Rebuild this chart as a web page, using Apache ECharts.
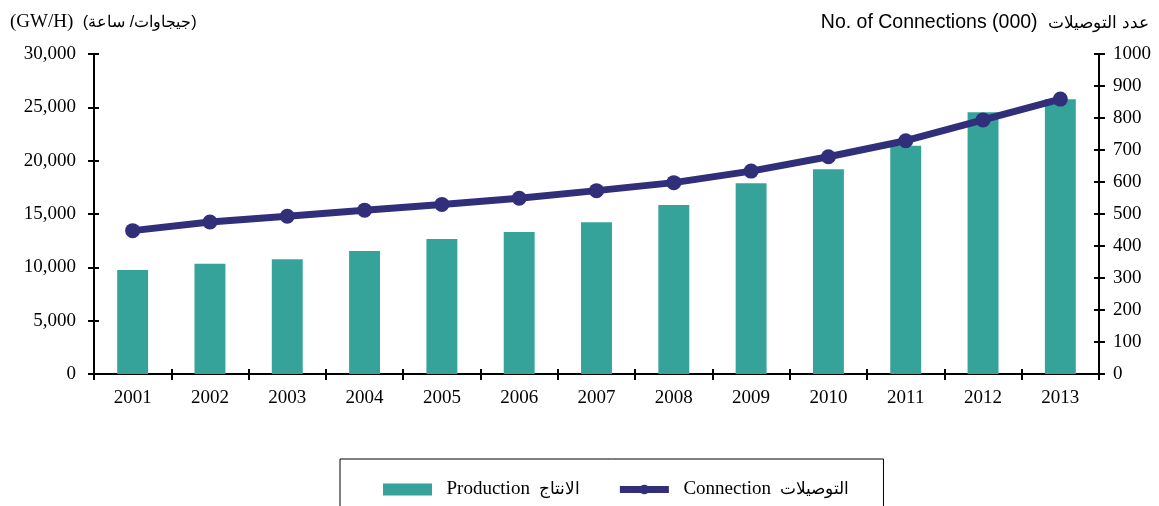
<!DOCTYPE html>
<html><head><meta charset="utf-8">
<script src="https://cdn.jsdelivr.net/npm/echarts@6/dist/echarts.min.js"></script>
<style>html,body{margin:0;padding:0;background:#fff}#c{width:1159px;height:506px}</style>
</head><body><div id="c"></div>
<script>
const years = ['2001','2002','2003','2004','2005','2006','2007','2008','2009','2010','2011','2012','2013'];
const production = [9750,10340,10750,11530,12660,13310,14220,15840,17880,19190,21400,24530,25750];
const connections = [448,475,493,512,530,549,573,598,634,679,729,794,859];
const leftTitleEn = '(GW/H)', leftTitleAr = '(جيجاوات/ ساعة)';
const rightTitleEn = 'No. of Connections (000)', rightTitleAr = 'عدد التوصيلات';
const prodName = 'Production  الانتاج';
const connName = 'Connection  التوصيلات';

const serif = "'Liberation Serif', 'Times New Roman', serif";
const sans = "'Liberation Sans', Arial, sans-serif";
const tealC = '#36A39B', navy = '#312E7A';
const lineAx = {show:true, lineStyle:{color:'#000', width:2}};
const chart = echarts.init(document.getElementById('c'));
const yL = {min:0,max:30000,interval:5000};
const yR = {min:0,max:1000,interval:100};
chart.setOption({
  animation:false,
  title:[
    {text:'{e|' + leftTitleEn + '  }{a|' + leftTitleAr + '}', left:5, top:8,
     textStyle:{fontWeight:'normal', rich:{e:{fontFamily:serif, fontSize:19, fontWeight:'normal', color:'#000'},
                                      a:{fontSize:16.4, fontWeight:'normal', color:'#000'}}}},
    {text:'{e|' + rightTitleEn + '  }{a|' + rightTitleAr + '}', right:5, top:8,
     textStyle:{fontWeight:'normal', rich:{e:{fontFamily:sans, fontSize:19.5, fontWeight:'normal', color:'#000'},
                                      a:{fontSize:16.5, fontWeight:'normal', color:'#000'}}}}
  ],
  grid:{left:94, right:60, top:54, bottom:132},
  legend:{
    left:340, top:459,
    padding:[21,34,40,43], itemGap:36,
    borderColor:'#000', borderWidth:1,
    itemWidth:49, itemHeight:12,
    formatter: n => { const p = n.split('  '); return '{e|  ' + p[0] + '  }{a|' + p[1] + '}'; },
    textStyle:{rich:{e:{fontFamily:serif, fontSize:19, color:'#000'}, a:{fontSize:16.5, color:'#000'}}},
    data:[{name:prodName, icon:'rect'},
          {name:connName, lineStyle:{width:7, color:navy}, itemStyle:{color:navy}}]
  },
  xAxis:[
    {type:'category', data:years, position:'bottom', axisLine:lineAx,
     axisTick:{show:true, length:6, lineStyle:{color:'#000', width:2}},
     axisLabel:{fontFamily:serif, fontSize:19, color:'#000', margin:15}},
    {type:'category', data:years, position:'top', axisLine:{show:true, lineStyle:{color:'#000', width:1}},
     axisTick:{show:false}, axisLabel:{show:false}},
    {type:'category', data:years, position:'bottom', axisLine:{show:false},
     axisTick:{show:true, inside:true, length:5, lineStyle:{color:'#000', width:2}}, axisLabel:{show:false}}
  ],
  yAxis:[
    Object.assign({type:'value', position:'left', axisLine:lineAx, splitLine:{show:false},
     axisTick:{show:true, length:6, lineStyle:{color:'#000', width:2}},
     axisLabel:{fontFamily:serif, fontSize:19, color:'#000', margin:18,
       formatter:v=>v.toLocaleString('en-US')}}, yL),
    Object.assign({type:'value', position:'right', axisLine:lineAx, splitLine:{show:false},
     axisTick:{show:true, length:6, lineStyle:{color:'#000', width:2}},
     axisLabel:{fontFamily:serif, fontSize:19, color:'#000', margin:14, formatter:v=>String(v)}}, yR),
    Object.assign({type:'value', position:'left', axisLine:{show:false}, splitLine:{show:false},
     axisTick:{show:true, inside:true, length:5, lineStyle:{color:'#000', width:2}}, axisLabel:{show:false}}, yL),
    Object.assign({type:'value', position:'right', axisLine:{show:false}, splitLine:{show:false},
     axisTick:{show:true, inside:true, length:5, lineStyle:{color:'#000', width:2}}, axisLabel:{show:false}}, yR)
  ],
  series:[
    {name:prodName, type:'bar', data:production, xAxisIndex:0, yAxisIndex:0, barWidth:'40%',
     itemStyle:{color:tealC}},
    {name:connName, type:'line', data:connections, xAxisIndex:0, yAxisIndex:1,
     symbol:'circle', symbolSize:15, lineStyle:{color:navy, width:7}, itemStyle:{color:navy}}
  ]
});
</script></body></html>
